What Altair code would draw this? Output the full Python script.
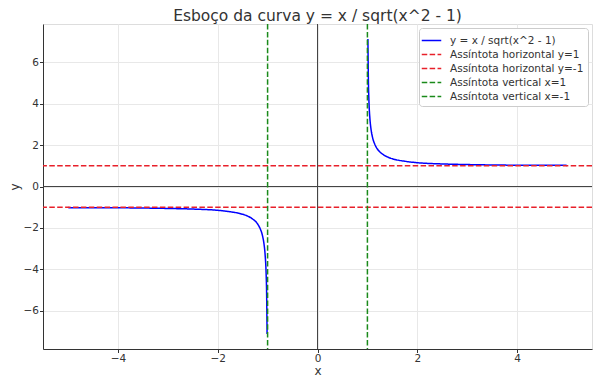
import altair as alt
import pandas as pd

# Curve points (right branch, x > 1)
x_right = [1.01, 1.02, 1.03, 1.05, 1.07, 1.10, 1.15, 1.20, 1.30, 1.40, 1.50, 1.75, 2.00, 2.50, 3.00, 3.50, 4.00, 4.50, 5.00]
y_right = [7.12, 5.07, 4.17, 3.28, 2.81, 2.40, 2.03, 1.81, 1.57, 1.43, 1.34, 1.22, 1.15, 1.09, 1.06, 1.04, 1.03, 1.03, 1.02]
# Left branch (x < -1)
x_left = [-5.00, -4.50, -4.00, -3.50, -3.00, -2.50, -2.00, -1.75, -1.50, -1.40, -1.30, -1.20, -1.15, -1.10, -1.07, -1.05, -1.03, -1.02, -1.01]
y_left = [-1.02, -1.03, -1.03, -1.04, -1.06, -1.09, -1.15, -1.22, -1.34, -1.43, -1.57, -1.81, -2.03, -2.40, -2.81, -3.28, -4.17, -5.07, -7.12]

curve_label = "y = x / sqrt(x^2 - 1)"
h_values = [1, -1]
h_labels = ["Assíntota horizontal y=1", "Assíntota horizontal y=-1"]
v_values = [1, -1]
v_labels = ["Assíntota vertical x=1", "Assíntota vertical x=-1"]

series_order = [curve_label] + h_labels + v_labels
series_colors = ["#0000ff", "#e8202a", "#e8202a", "#1a8a1a", "#1a8a1a"]
series_dash = [[1, 0], [5.5, 2.4], [5.5, 2.4], [5.5, 2.4], [5.5, 2.4]]

curve_df = pd.DataFrame({
    "x": x_right + x_left,
    "y": y_right + y_left,
    "branch": ["right"] * len(x_right) + ["left"] * len(x_left),
    "series": [curve_label] * (len(x_right) + len(x_left)),
})
h_df = pd.DataFrame({"y": h_values, "series": h_labels})
v_df = pd.DataFrame({"x": v_values, "series": v_labels})
zero_df = pd.DataFrame({"v": [0]})

x_scale = alt.Scale(domain=[-5.5, 5.5], nice=False, zero=False)
y_scale = alt.Scale(domain=[-7.85, 7.85], nice=False, zero=False)

color_enc = alt.Color(
    "series:N",
    scale=alt.Scale(domain=series_order, range=series_colors),
    title=None,
    legend=alt.Legend(
        orient="top-right",
        offset=4,
        symbolType="M-1.3,0H1.3",
        symbolSize=225,
        symbolStrokeWidth=1.5,
        symbolFillColor="transparent",
        labelFontSize=10.5,
        labelFont="DejaVu Sans",
        labelColor="#333333",
        fillColor="white",
        strokeColor="#cccccc",
        cornerRadius=3,
        padding=4,
        rowPadding=0,
        columnPadding=0,
        labelOffset=10,
        labelLimit=300,
    ),
)
dash_enc = alt.StrokeDash(
    "series:N",
    scale=alt.Scale(domain=series_order, range=series_dash),
    title=None,
)

common_axis = dict(
    grid=True, gridColor="#e8e8e8",
    domainColor="#333333", tickColor="#333333", labelColor="#333333",
    titleColor="#333333", labelFontSize=10.5, titleFontSize=12,
    titleFontWeight="normal", labelFont="DejaVu Sans", titleFont="DejaVu Sans",
    tickSize=3.5, labelPadding=1,
)
x_axis = alt.Axis(values=[-4, -2, 0, 2, 4], title="x", titlePadding=1, **common_axis)
y_axis = alt.Axis(values=[-6, -4, -2, 0, 2, 4, 6], title="y", titlePadding=2, **common_axis)

zero_h = alt.Chart(zero_df).mark_rule(color="#444444", strokeWidth=1).encode(
    y=alt.Y("v:Q", scale=y_scale, axis=y_axis)
)
zero_v = alt.Chart(zero_df).mark_rule(color="#444444", strokeWidth=1).encode(
    x=alt.X("v:Q", scale=x_scale, axis=x_axis)
)

curve = alt.Chart(curve_df).mark_line(strokeWidth=1.5, interpolate="monotone").encode(
    x=alt.X("x:Q", scale=x_scale, axis=x_axis),
    y=alt.Y("y:Q", scale=y_scale, axis=y_axis),
    color=color_enc,
    strokeDash=dash_enc,
    detail="branch:N",
    order=alt.Order("x:Q"),
)

h_rules = alt.Chart(h_df).mark_rule(strokeWidth=1.5).encode(
    y=alt.Y("y:Q", scale=y_scale, axis=y_axis),
    color=color_enc,
    strokeDash=dash_enc,
)
v_rules = alt.Chart(v_df).mark_rule(strokeWidth=1.5).encode(
    x=alt.X("x:Q", scale=x_scale, axis=x_axis),
    color=color_enc,
    strokeDash=dash_enc,
)

chart = alt.layer(zero_h, zero_v, curve, h_rules, v_rules).properties(
    width=549,
    height=325,
    title=alt.Title(
        "Esboço da curva y = x / sqrt(x^2 - 1)",
        fontSize=15.5, font="DejaVu Sans", fontWeight="normal", color="#333333",
        offset=-1,
    ),
    padding={"left": 0, "top": 0, "right": 0, "bottom": 0},
).configure_view(stroke=None).configure(background="white")

chart.save("out.html", embed_options={"renderer": "svg", "actions": False})
